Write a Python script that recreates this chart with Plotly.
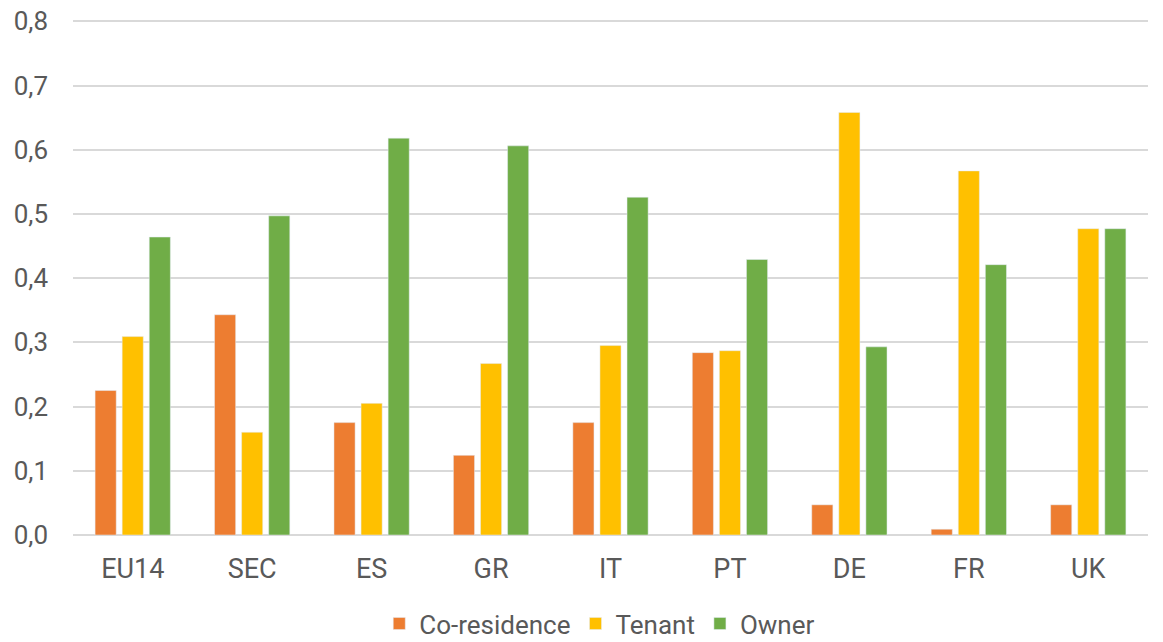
import plotly.graph_objects as go

categories = ["EU14", "SEC", "ES", "GR", "IT", "PT", "DE", "FR", "UK"]
co_residence = [0.225, 0.343, 0.175, 0.124, 0.175, 0.284, 0.047, 0.009, 0.047]
tenant = [0.309, 0.160, 0.205, 0.267, 0.295, 0.287, 0.658, 0.567, 0.477]
owner = [0.464, 0.497, 0.618, 0.606, 0.526, 0.429, 0.293, 0.421, 0.477]
y_ticks = [0, 0.1, 0.2, 0.3, 0.4, 0.5, 0.6, 0.7, 0.8]

fig = go.Figure()
fig.add_trace(go.Bar(name="Co-residence", x=categories, y=co_residence, marker_color="#ED7D31"))
fig.add_trace(go.Bar(name="Tenant", x=categories, y=tenant, marker_color="#FFC000"))
fig.add_trace(go.Bar(name="Owner", x=categories, y=owner, marker_color="#70AD47"))

fig.update_layout(
    width=1163, height=642,
    margin=dict(l=73, r=15, t=20, b=107, autoexpand=False),
    paper_bgcolor="white", plot_bgcolor="white",
    font=dict(family="Roboto", size=26, color="#595959"),
    separators=", ",
    barmode="group", bargap=0.32, bargroupgap=0.22,
    legend=dict(orientation="h", x=0.49, xanchor="center", y=-0.172, yanchor="middle",
                font=dict(size=26, color="#595959"), itemwidth=30, traceorder="normal",
                tracegroupgap=0),
    xaxis=dict(showgrid=False, showline=False, ticks="", tickfont=dict(size=27),
               ticklabelstandoff=15, automargin=False),
    yaxis=dict(range=[0, 0.802], tickvals=y_ticks, tickformat=".1f", showgrid=True,
               gridcolor="#D9D9D9", gridwidth=1.5, zeroline=True, zerolinecolor="#D9D9D9",
               zerolinewidth=1.5, ticks="", ticklabelstandoff=24, tickfont=dict(size=26),
               automargin=False),
)

fig.write_html("out.html", config={"displayModeBar": False},
               post_script="document.body.style.margin='0';")
